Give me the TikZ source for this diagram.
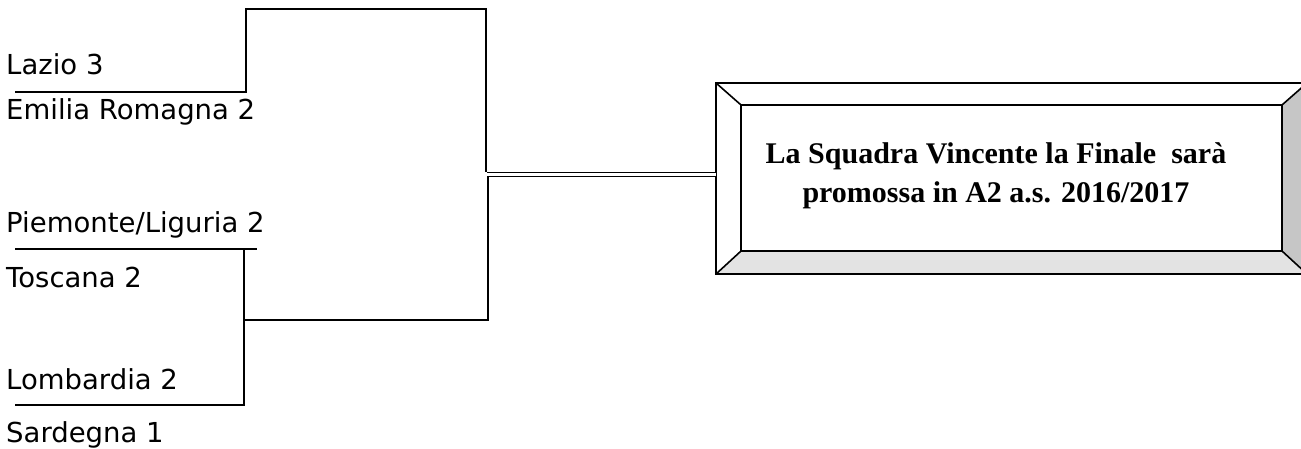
\documentclass[tikz,border=0pt]{standalone}
\usepackage{fontspec}
\setmainfont{Liberation Serif}
\newfontfamily\tahoma{DejaVu Sans}
\usetikzlibrary{calc}
\tikzstyle{squadra} = [anchor=base west, inner sep=0pt, font=\tahoma\fontsize{27.5}{32}\selectfont]
\tikzstyle{linea} = [line width=1.6pt]
\tikzstyle{doppia} = [line width=1.3pt, double, double distance=2.6pt]
\tikzstyle{cornice} = [minimum width=591pt, minimum height=191pt, inner sep=0pt]
\tikzstyle{scritta} = [align=center, inner sep=0pt, font=\bfseries\fontsize{30}{39}\selectfont]

\begin{document}
\begin{tikzpicture}[x=1pt,y=-1pt]
	\useasboundingbox (0,0) rectangle (1301,448);
	% squadre
	\node[squadra] (lazio) at (6,74) {Lazio 3};
	\node[squadra] (emilia) at (6,119) {Emilia Romagna 2};
	\node[squadra] (piemonte) at (6,232) {Piemonte/Liguria 2};
	\node[squadra] (toscana) at (6,287) {Toscana 2};
	\node[squadra] (lombardia) at (6,389) {Lombardia 2};
	\node[squadra] (sardegna) at (6,442) {Sardegna 1};
	% tabellone
	\coordinate (l1) at (15,92);
	\coordinate (l2) at (246,92);
	\coordinate (l3) at (246,9);
	\coordinate (l4) at (486,9);
	\coordinate (j1) at (486,172);
	\coordinate (p1) at (15,249);
	\coordinate (p2) at (257,249);
	\coordinate (p3) at (244,249);
	\coordinate (s1) at (15,405);
	\coordinate (s2) at (244,405);
	\coordinate (m1) at (244,320);
	\coordinate (m2) at (488,320);
	\coordinate (j2) at (488,177);
	\coordinate (j) at (487,174.3);
	\draw[linea] (l1) -- (l2) -- (l3) -- (l4) -- (j1);
	\draw[linea] (p1) -- (p2);
	\draw[linea] (p3) -- (s2) -- (s1);
	\draw[linea] (m1) -- (m2) -- (j2);
	% finale
	\node[cornice] (box) at (1011.5,178.5) {};
	\coordinate (i1) at ($(box.north west)+(25,22)$);
	\coordinate (i2) at ($(box.north east)+(-25,22)$);
	\coordinate (i3) at ($(box.south east)+(-25,-23)$);
	\coordinate (i4) at ($(box.south west)+(25,-23)$);
	\fill[gray!22] (box.south west) -- (i4) -- (i3) -- (box.south east) -- cycle;
	\fill[gray!45] (i2) -- (box.north east) -- (box.south east) -- (i3) -- cycle;
	\draw[linea] (box.north west) rectangle (box.south east);
	\draw[linea] (i1) rectangle (i3);
	\draw[linea] (box.north west) -- (i1) (box.north east) -- (i2)
		(box.south east) -- (i3) (box.south west) -- (i4);
	\draw[doppia] (j) -- (j -| box.west);
	\node[scritta] (testo) at (996,176) {La Squadra Vincente la Finale~ sarà\\promossa in A2 a.s. 2016/2017};
\end{tikzpicture}
\end{document}
